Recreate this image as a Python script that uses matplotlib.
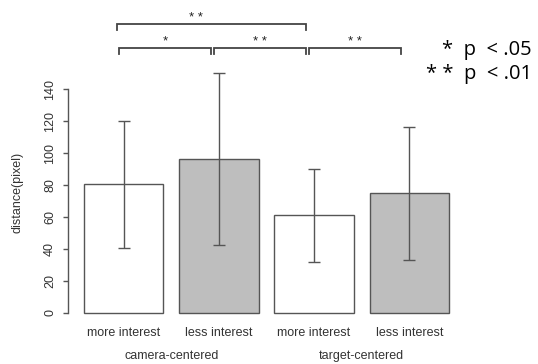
import matplotlib
matplotlib.use("Agg")
import matplotlib.pyplot as plt
import matplotlib.transforms as mtransforms

# ---- data ----
conditions = ["more interest", "less interest", "more interest", "less interest"]
groups = ["camera-centered", "target-centered"]
means = [80.5, 96.0, 61.0, 75.0]
err_low = [40.8, 42.5, 32.0, 33.3]
err_high = [120.0, 150.0, 90.0, 116.0]
comparisons = [(0, 1, "*"), (1, 2, "* *"), (2, 3, "* *"), (0, 2, "* *")]
yticks = [0, 20, 40, 60, 80, 100, 120, 140]
legend_lines = ["*  p  < .05", "* *  p  < .01"]

# ---- style ----
bar_colors = ["white", "#bebebe", "white", "#bebebe"]
edge = "#555555"
txt = "#333333"
plt.rcParams['font.family'] = ['Liberation Sans', 'DejaVu Sans']

W, H = 538, 364
fig = plt.figure(figsize=(W / 100, H / 100), dpi=100)
ax = fig.add_axes([84 / W, (H - 313) / H, (449 - 84) / W, 224 / H])

width = 1.0
space = 0.2
centers = [space + width / 2 + i * (width + space) for i in range(len(means))]

bars = ax.bar(centers, means, width=width, color=bar_colors, edgecolor=edge, linewidth=1.0, zorder=2)
for b in bars:
    b.set_clip_on(False)
yerr = [[m - l for m, l in zip(means, err_low)], [h - m for m, h in zip(means, err_high)]]
ax.errorbar(centers, means, yerr=yerr, fmt='none', ecolor=edge, elinewidth=1.0,
            capsize=4.3, capthick=1.0, zorder=3, clip_on=False)

ax.set_xlim(0.2, 4.8)
ax.set_ylim(0, 140)
for s in ['top', 'right', 'bottom']:
    ax.spines[s].set_visible(False)
ax.spines['left'].set_position(('outward', 11.5))
ax.spines['left'].set_color(edge)
ax.spines['left'].set_linewidth(1.0)
ax.set_yticks(yticks)
ax.set_yticklabels([str(v) for v in yticks], rotation=90, va='center')
ax.tick_params(axis='y', length=3.6, width=1.0, color=edge, labelsize=9, labelcolor=txt, pad=5)
ax.set_xticks(centers)
ax.set_xticklabels(conditions)
ax.tick_params(axis='x', length=0, labelsize=9, labelcolor=txt, pad=10)

# group labels
btr = mtransforms.blended_transform_factory(ax.transData, fig.transFigure)
for gi, g in enumerate(groups):
    gx = (centers[2 * gi] + centers[2 * gi + 1]) / 2
    fig.text(gx, (H - 356) / H, g, transform=btr, ha='center', va='center', fontsize=9, color=txt)

fig.text(18 / W, (H - 192) / H, "distance(pixel)", rotation=90, ha='center', va='center',
         fontsize=9, color=txt)

# significance brackets
for i, j, lab in comparisons:
    top = (j - i) > 1
    y = 180.6 if top else 165.6
    tick = 3.7
    x0 = centers[i] - (0.09 if top else 0.06)
    x1 = centers[j] - 0.10
    ax.plot([x0, x0, x1, x1], [y - tick, y, y, y - tick], color='#444444', lw=1.3,
            clip_on=False, solid_joinstyle='miter')
    lx = (x0 + x1) / 2 - (0.2 if top else 0.0)
    ax.text(lx, y + 2.0, lab, ha='center', va='baseline', fontsize=9.5, color='#222222',
            clip_on=False)

# p-value legend
for k, line in enumerate(legend_lines):
    fig.text(532 / W, (H - (50 + 24.5 * k)) / H, line, ha='right', va='center',
             fontsize=14.5, family=['Open Sans', 'DejaVu Sans'], color='black')

fig.savefig("out.png", dpi=100)
